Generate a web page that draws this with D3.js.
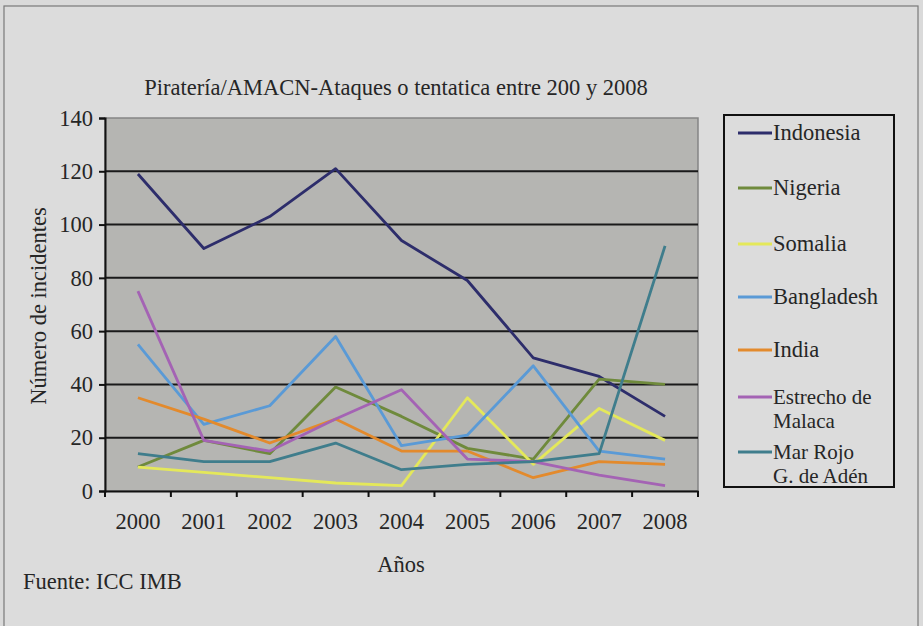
<!DOCTYPE html>
<html><head><meta charset="utf-8">
<script src="https://cdn.jsdelivr.net/npm/d3@7"></script>
<style>body{margin:0;background:#dadada;} svg{display:block;}</style>
</head><body><svg id="c" width="923" height="626"></svg>
<script>
const years = ["2000","2001","2002","2003","2004","2005","2006","2007","2008"];
const yTicks = [0,20,40,60,80,100,120,140];
const indonesia  = [119, 91, 103, 121, 94, 79, 50, 43, 28];
const nigeria    = [9, 19, 14, 39, 28, 16, 12, 42, 40];
const somalia    = [9, 7, 5, 3, 2, 35, 10, 31, 19];
const bangladesh = [55, 25, 32, 58, 17, 21, 47, 15, 12];
const india      = [35, 27, 18, 27, 15, 15, 5, 11, 10];
const malaca     = [75, 19, 15, 27, 38, 12, 11, 6, 2];
const marRojo    = [14, 11, 11, 18, 8, 10, 11, 14, 92];
const seriesNames = [["Indonesia"],["Nigeria"],["Somalia"],["Bangladesh"],["India"],["Estrecho de","Malaca"],["Mar Rojo","G. de Adén"]];
const seriesColors = ["#2d2d6b","#6f8a3c","#e4e85a","#5a9ad6","#e38a2c","#a463b4","#3f7d8c"];
const seriesData = [indonesia,nigeria,somalia,bangladesh,india,malaca,marRojo];

const svg = d3.select("#c");
const font = "'Liberation Serif', 'DejaVu Serif', serif";
const txt = "#262626";
// outer frame
svg.append("rect").attr("x",4).attr("y",6).attr("width",914).attr("height",640)
  .attr("fill","#dcdcdc").attr("stroke","#7a7a7a").attr("stroke-width",1.2);

const L=105,R=698,T=118,B=491;
const x = d3.scaleBand().domain(years).range([L,R]);
const y = d3.scaleLinear().domain([0,140]).range([B,T]);

svg.append("rect").attr("x",L).attr("y",T).attr("width",R-L).attr("height",B-T)
  .attr("fill","#b5b5b2").attr("stroke","#858585").attr("stroke-width",1.5);

// gridlines
svg.append("g").selectAll("line").data(yTicks.filter(v=>v>0&&v<140)).join("line")
  .attr("x1",L).attr("x2",R).attr("y1",d=>y(d)).attr("y2",d=>y(d))
  .attr("stroke","#1a1a1a").attr("stroke-width",2);

// y axis
const ya = svg.append("g").attr("transform",`translate(${L},0)`)
  .call(d3.axisLeft(y).tickValues(yTicks).tickSize(6).tickPadding(6));
ya.select(".domain").attr("stroke","#111").attr("stroke-width",2);
ya.selectAll(".tick line").attr("stroke","#111").attr("stroke-width",2);
ya.selectAll("text").attr("font-family",font).attr("font-size",22.5).attr("fill",txt);

// x axis
const xa = svg.append("g").attr("transform",`translate(0,${B})`)
  .call(d3.axisBottom(x).tickSize(0).tickPadding(22));
xa.select(".domain").attr("stroke","#111").attr("stroke-width",2);
xa.selectAll("text").attr("font-family",font).attr("font-size",22.5).attr("fill",txt);
svg.append("g").selectAll("line").data(years.concat(["end"])).join("line")
  .attr("x1",(d,i)=>L+i*x.bandwidth()).attr("x2",(d,i)=>L+i*x.bandwidth())
  .attr("y1",B).attr("y2",B+6).attr("stroke","#111").attr("stroke-width",2);

// lines
const line = d3.line().x((d,i)=>x(years[i])+x.bandwidth()/2).y(d=>y(d));
seriesData.forEach((s,k)=>{
  svg.append("path").datum(s).attr("d",line).attr("fill","none")
    .attr("stroke",seriesColors[k]).attr("stroke-width",2.8).attr("stroke-linejoin","round");
});

// title
svg.append("text").attr("x",396).attr("y",95).attr("text-anchor","middle")
  .attr("font-family",font).attr("font-size",22.5).attr("fill",txt)
  .text("Piratería/AMACN-Ataques o tentatica entre 200 y 2008");
// axis titles
svg.append("text").attr("transform","translate(46,306) rotate(-90)").attr("text-anchor","middle")
  .attr("font-family",font).attr("font-size",22.5).attr("fill",txt).text("Número de incidentes");
svg.append("text").attr("x",401).attr("y",572).attr("text-anchor","middle")
  .attr("font-family",font).attr("font-size",22.5).attr("fill",txt).text("Años");
svg.append("text").attr("x",23).attr("y",589)
  .attr("font-family",font).attr("font-size",22.5).attr("fill",txt).text("Fuente: ICC IMB");

// legend
svg.append("rect").attr("x",724).attr("y",115).attr("width",170).attr("height",372)
  .attr("fill","#dcdcdc").attr("stroke","#111").attr("stroke-width",2);
const legY = [133,188,244,297,350,397,452];
seriesNames.forEach((nm,k)=>{
  const g = svg.append("g");
  g.append("line").attr("x1",738).attr("x2",772).attr("y1",legY[k]).attr("y2",legY[k])
    .attr("stroke",seriesColors[k]).attr("stroke-width",2.8);
  nm.forEach((t,j)=>{
    g.append("text").attr("x",773).attr("y",legY[k]+7+j*24)
      .attr("font-family",font).attr("font-size",nm.length>1?21:22.5).attr("fill",txt).text(t);
  });
});
</script></body></html>
